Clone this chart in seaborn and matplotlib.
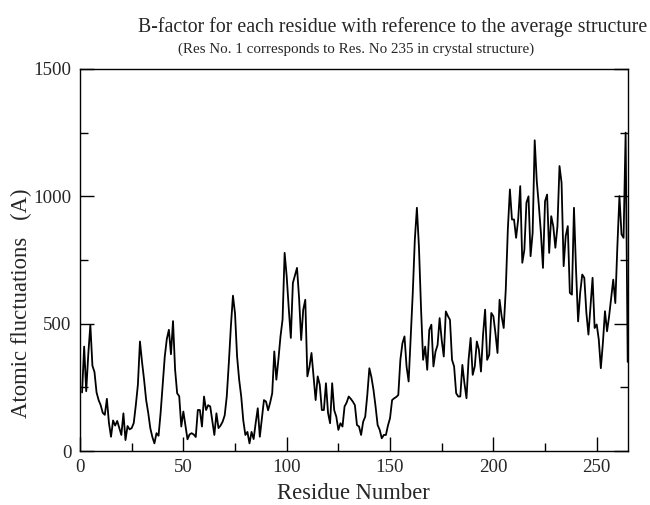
import numpy as np
import pandas as pd
import matplotlib
matplotlib.use("Agg")
import matplotlib.pyplot as plt
import seaborn as sns
from matplotlib.ticker import MultipleLocator

# B-factor per residue (residues 1..265)
residue = list(range(1, 266))
bfactor = [
    230, 410, 235, 380, 495, 335, 310, 230, 200, 180,
    150, 142, 205, 110, 56, 120, 100, 118, 90, 63,
    148, 43, 98, 85, 90, 110, 180, 260, 430, 350,
    280, 200, 150, 90, 55, 30, 70, 60, 150, 260,
    370, 440, 476, 380, 510, 320, 227, 215, 96, 155,
    100, 46, 65, 70, 65, 55, 161, 161, 96, 214,
    161, 180, 175, 120, 63, 148, 90, 100, 115, 140,
    214, 345, 490, 610, 540, 371, 280, 214, 120, 63,
    75, 30, 75, 47, 110, 168, 56, 130, 200, 194,
    160, 190, 227, 391, 280, 360, 450, 516, 778, 686,
    560, 444, 660, 690, 719, 600, 436, 555, 594, 293,
    330, 385, 293, 200, 293, 260, 161, 161, 266, 150,
    109, 266, 160, 135, 83, 109, 96, 175, 190, 214,
    205, 194, 180, 102, 96, 63, 115, 135, 220, 325,
    290, 240, 175, 102, 83, 50, 63, 63, 100, 129,
    200, 207, 212, 220, 358, 423, 450, 332, 273, 450,
    620, 830, 955, 800, 560, 358, 410, 319, 476, 496,
    332, 390, 416, 522, 436, 371, 548, 530, 515, 358,
    332, 227, 214, 214, 338, 266, 207, 358, 444, 299,
    332, 430, 398, 312, 456, 555, 358, 378, 542, 529,
    463, 385, 594, 529, 483, 634, 870, 1027, 909, 909,
    837, 909, 1040, 739, 790, 975, 1000, 765, 857, 1220,
    1060, 965, 857, 719, 981, 1007, 778, 922, 882, 798,
    882, 1119, 1053, 726, 844, 883, 621, 614, 955, 712,
    509, 621, 693, 680, 543, 457, 569, 680, 483, 497,
    438, 325, 425, 549, 470, 529, 600, 673, 581, 804,
    1001, 851, 837, 1250, 350,
]

title = "B-factor for each residue with reference to the average structure"
subtitle = "(Res No. 1 corresponds to Res. No 235 in crystal structure)"
xlabel = "Residue Number"
ylabel = "Atomic fluctuations   (A)"

df = pd.DataFrame({"Residue": residue, "B": bfactor})

sns.set_style("ticks")
plt.rcParams["font.family"] = ["Liberation Serif", "DejaVu Serif"]

fig = plt.figure(figsize=(6.5, 5.05), dpi=100)
ax = fig.add_axes([0.1231, 0.1069, 0.9657 - 0.1231, 0.8634 - 0.1069])

sns.lineplot(data=df, x="Residue", y="B", ax=ax, color="black", linewidth=1.3)

ax.set_xlim(0, 265)
ax.set_ylim(0, 1500)
ax.xaxis.set_major_locator(MultipleLocator(50))
ax.xaxis.set_minor_locator(MultipleLocator(25))
ax.yaxis.set_major_locator(MultipleLocator(500))
ax.yaxis.set_minor_locator(MultipleLocator(250))
ax.tick_params(which="both", direction="in", top=False, right=True,
               color="black", width=1.0, labelsize=13.6, pad=6)
ax.tick_params(which="major", length=10)
ax.tick_params(which="minor", length=6)
for s in ax.spines.values():
    s.set_linewidth(1.0)
    s.set_color("black")

ax.set_xlabel(xlabel, fontsize=16.3, labelpad=5)
ax.set_ylabel("")
fig.text(21 / 650, 1 - 418 / 505, ylabel, rotation=90, ha="center", va="bottom",
         fontsize=16.3)

fig.text(393 / 650, 1 - 27 / 505, title, ha="center", va="center", fontsize=14.3)
fig.text(356 / 650, 1 - 49 / 505, subtitle, ha="center", va="center", fontsize=10.8)

fig.savefig("out.png", dpi=100, facecolor="white")
